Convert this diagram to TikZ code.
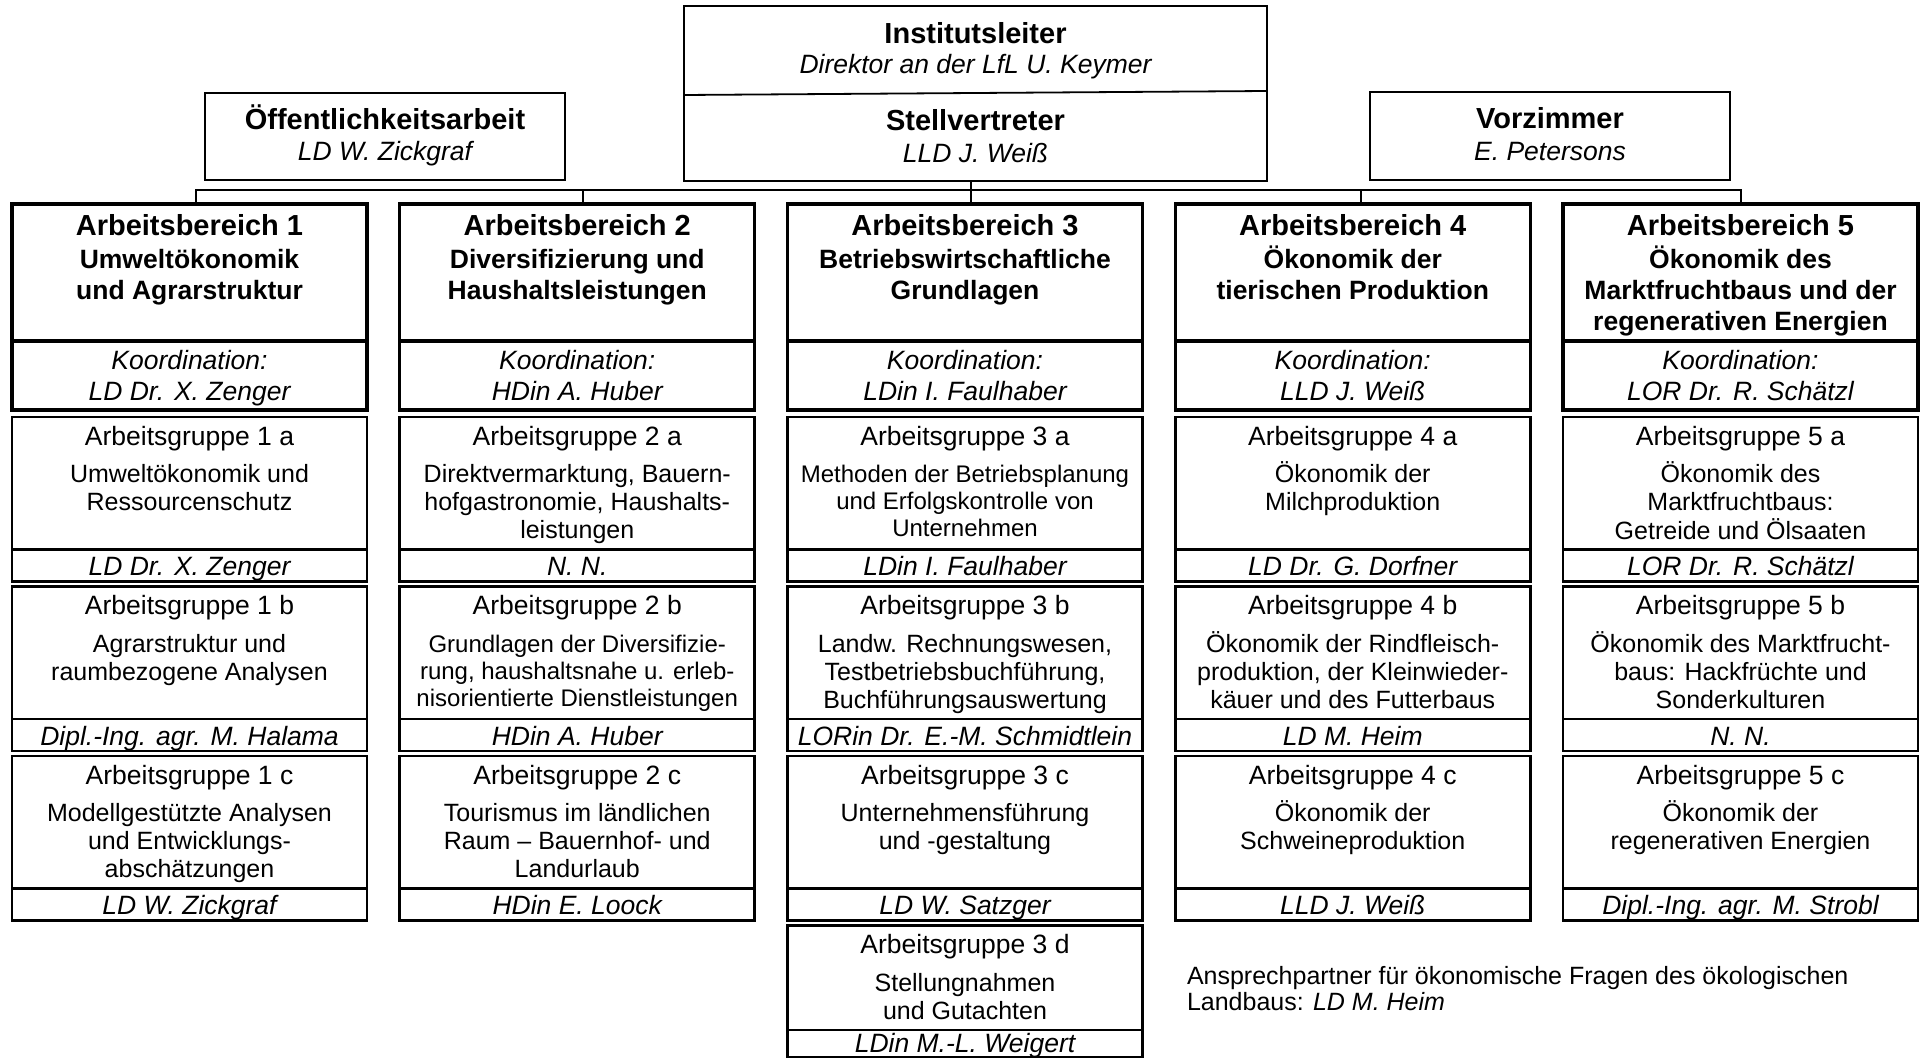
\documentclass[tikz,border=0pt]{standalone}
\usepackage{fontspec}
\setmainfont{Liberation Sans}
\newcommand{\mylines}[1]{\begin{tabular}[t]{@{}c@{}}#1\end{tabular}}
\newcommand{\abcol}[4]{%
 \node[hdbox, anchor=north] (ab#1) at (#2,204) {};
 \node[kobox, anchor=north] (ko#1) at (ab#1.south) {};
 \node[ttl] (ab#1t) at ([yshift=-32pt]ab#1.north) {Arbeitsbereich #1};
 \node[sub] (ab#1s) at ([yshift=-65pt]ab#1.north) {\mylines{#3}};
 \node[itx] (ko#1t) at ([yshift=-28pt]ko#1.north) {\mylines{Koordination:\\#4}};
}
\newcommand{\grp}[7]{%
 \node[gbox, anchor=north] (#1) at (#2,#3) {};
 \node[nbox, anchor=north] (#1n) at (#1.south) {};
 \node[gtitle] (#1t) at ([yshift=-28pt]#1.north) {#4};
 \node[#5] (#1d) at ([yshift=-65.5pt]#1.north) {\mylines{#6}};
 \node[itx] (#1p) at ([yshift=-26pt]#1n.north) {#7};
}
\begin{document}
\begin{tikzpicture}[x=1pt,y=-1pt,
 every node/.style={inner sep=0pt, outer sep=0pt},
 topbox/.style={draw, line width=1.8pt},
 topline/.style={line width=1.8pt},
 hdbox/.style={draw, line width=3.4pt, minimum width=355pt, minimum height=137pt},
 kobox/.style={draw, line width=3.4pt, minimum width=355pt, minimum height=69pt},
 gbox/.style={draw, line width=2.6pt, minimum width=355pt, minimum height=132.5pt},
 nbox/.style={draw, line width=2.6pt, minimum width=355pt, minimum height=32pt},
 conn/.style={line width=2.2pt},
 ttl/.style={anchor=base, font=\fontsize{29}{31}\selectfont\bfseries},
 sub/.style={anchor=base, font=\fontsize{26.5}{31}\selectfont\bfseries},
 itx/.style={anchor=base, font=\fontsize{26.5}{31}\selectfont\itshape},
 gtitle/.style={anchor=base, font=\fontsize{26.5}{28}\selectfont},
 gdesc/.style={anchor=base, font=\fontsize{25}{28}\selectfont},
 gdescs/.style={anchor=base, font=\fontsize{24}{27}\selectfont},
]
\useasboundingbox (0,0) rectangle (1921,1059);

% top boxes
\node[topbox, minimum width=583pt, minimum height=175pt, anchor=north west] (leiter) at (684,6) {};
\draw[topline] ([yshift=-89pt]leiter.north west) -- ([yshift=-85pt]leiter.north east);
\node[ttl] (leiter1) at (975.5,44) {Institutsleiter};
\node[itx] (leiter2) at (975.5,74) {Direktor an der LfL U. Keymer};
\node[ttl] (leiter3) at (975.5,131) {Stellvertreter};
\node[itx] (leiter4) at (975.5,163) {LLD J. Weiß};

\node[topbox, minimum width=360pt, minimum height=87pt, anchor=north west] (oeff) at (205,93) {};
\node[ttl] (oeff1) at (385,130) {Öffentlichkeitsarbeit};
\node[itx] (oeff2) at (385,161) {LD W. Zickgraf};

\node[topbox, minimum width=360pt, minimum height=88pt, anchor=north west] (vorz) at (1370,92) {};
\node[ttl] (vorz1) at (1550,129) {Vorzimmer};
\node[itx] (vorz2) at (1550,161) {E. Petersons};

% Arbeitsbereiche
\abcol{1}{189.5}{Umweltökonomik\\und Agrarstruktur}{LD Dr. X. Zenger}
\abcol{2}{577.25}{Diversifizierung und\\Haushaltsleistungen}{HDin A. Huber}
\abcol{3}{965}{Betriebswirtschaftliche\\Grundlagen}{LDin I. Faulhaber}
\abcol{4}{1352.75}{Ökonomik der\\tierischen Produktion}{LLD J. Weiß}
\abcol{5}{1740.5}{Ökonomik des\\Marktfruchtbaus und der\\regenerativen Energien}{LOR Dr. R. Schätzl}

% connectors
\coordinate (j1) at (196,190);
\coordinate (j2) at (583,190);
\coordinate (j3) at (971,190);
\coordinate (j4) at (1361,190);
\coordinate (j5) at (1741,190);
\draw[conn] (ab1.north -| j1) -- (j1) -- (j5) -- (ab5.north -| j5);
\draw[conn] (j2) -- (ab2.north -| j2);
\draw[conn] (j4) -- (ab4.north -| j4);
\draw[conn] (leiter.south -| j3) -- (ab3.north -| j3);

% Arbeitsgruppen column 1
\grp{g1a}{189.5}{417}{Arbeitsgruppe 1 a}{gdesc}{Umweltökonomik und\\Ressourcenschutz}{LD Dr. X. Zenger}
\grp{g1b}{189.5}{586.5}{Arbeitsgruppe 1 b}{gdesc}{Agrarstruktur und\\raumbezogene Analysen}{Dipl.-Ing. agr. M. Halama}
\grp{g1c}{189.5}{756}{Arbeitsgruppe 1 c}{gdesc}{Modellgestützte Analysen\\und Entwicklungs-\\abschätzungen}{LD W. Zickgraf}
% column 2
\grp{g2a}{577.25}{417}{Arbeitsgruppe 2 a}{gdesc}{Direktvermarktung, Bauern-\\hofgastronomie, Haushalts-\\leistungen}{N. N.}
\grp{g2b}{577.25}{586.5}{Arbeitsgruppe 2 b}{gdescs}{Grundlagen der Diversifizie-\\rung, haushaltsnahe u. erleb-\\nisorientierte Dienstleistungen}{HDin A. Huber}
\grp{g2c}{577.25}{756}{Arbeitsgruppe 2 c}{gdesc}{Tourismus im ländlichen\\Raum – Bauernhof- und\\Landurlaub}{HDin E. Loock}
% column 3
\grp{g3a}{965}{417}{Arbeitsgruppe 3 a}{gdescs}{Methoden der Betriebsplanung\\und Erfolgskontrolle von\\Unternehmen}{LDin I. Faulhaber}
\grp{g3b}{965}{586.5}{Arbeitsgruppe 3 b}{gdesc}{Landw. Rechnungswesen,\\Testbetriebsbuchführung,\\Buchführungsauswertung}{LORin Dr. E.-M. Schmidtlein}
\grp{g3c}{965}{756}{Arbeitsgruppe 3 c}{gdesc}{Unternehmensführung\\und -gestaltung}{LD W. Satzger}
% group 3 d
\node[gbox, minimum height=104.5pt, anchor=north] (g3d) at (965,925.5) {};
\node[nbox, minimum height=27pt, anchor=north] (g3dn) at (g3d.south) {};
\node[gtitle] (g3dt) at ([yshift=-28pt]g3d.north) {Arbeitsgruppe 3 d};
\node[gdesc] (g3dd) at ([yshift=-66pt]g3d.north) {\mylines{Stellungnahmen\\und Gutachten}};
\node[itx] (g3dp) at ([yshift=-22pt]g3dn.north) {LDin M.-L. Weigert};
% column 4
\grp{g4a}{1352.75}{417}{Arbeitsgruppe 4 a}{gdesc}{Ökonomik der\\Milchproduktion}{LD Dr. G. Dorfner}
\grp{g4b}{1352.75}{586.5}{Arbeitsgruppe 4 b}{gdesc}{Ökonomik der Rindfleisch-\\produktion, der Kleinwieder-\\käuer und des Futterbaus}{LD M. Heim}
\grp{g4c}{1352.75}{756}{Arbeitsgruppe 4 c}{gdesc}{Ökonomik der\\Schweineproduktion}{LLD J. Weiß}
% column 5
\grp{g5a}{1740.5}{417}{Arbeitsgruppe 5 a}{gdesc}{Ökonomik des\\Marktfruchtbaus:\\Getreide und Ölsaaten}{LOR Dr. R. Schätzl}
\grp{g5b}{1740.5}{586.5}{Arbeitsgruppe 5 b}{gdesc}{Ökonomik des Marktfrucht-\\baus: Hackfrüchte und\\Sonderkulturen}{N. N.}
\grp{g5c}{1740.5}{756}{Arbeitsgruppe 5 c}{gdesc}{Ökonomik der\\regenerativen Energien}{Dipl.-Ing. agr. M. Strobl}

% note
\node[anchor=base west, font=\fontsize{25}{26}\selectfont] (note) at (1187,984)
 {\begin{tabular}[t]{@{}l@{}}Ansprechpartner für ökonomische Fragen des ökologischen\\Landbaus: \textit{LD M. Heim}\end{tabular}};
\end{tikzpicture}
\end{document}
